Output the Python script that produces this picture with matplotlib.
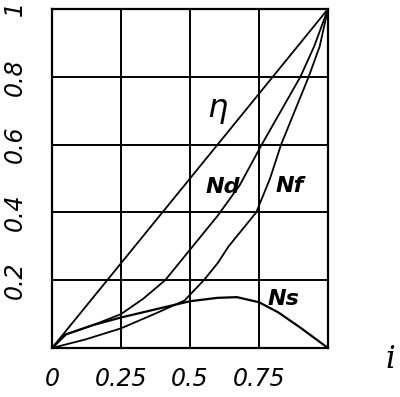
import matplotlib
matplotlib.use("Agg")
import matplotlib.pyplot as plt

# values
eta_i = [0.0, 1.0]
eta_v = [0.0, 1.0]

nd_i = [0.0, 0.05, 0.15, 0.25, 0.33, 0.41, 0.5, 0.6, 0.68, 0.76, 0.83, 0.9, 0.95, 1.0]
nd_v = [0.0, 0.04, 0.068, 0.10, 0.145, 0.20, 0.29, 0.39, 0.48, 0.60, 0.70, 0.80, 0.89, 1.0]

nf_i = [0.0, 0.12, 0.25, 0.37, 0.48, 0.55, 0.6, 0.64, 0.69, 0.74, 0.79, 0.83, 0.88, 0.93, 0.97, 1.0]
nf_v = [0.0, 0.025, 0.058, 0.10, 0.14, 0.20, 0.25, 0.30, 0.35, 0.40, 0.50, 0.60, 0.70, 0.80, 0.89, 1.0]

ns_i = [0.0, 0.05, 0.15, 0.25, 0.38, 0.5, 0.6, 0.67, 0.75, 0.82, 0.9, 0.95, 1.0]
ns_v = [0.0, 0.04, 0.068, 0.09, 0.115, 0.138, 0.148, 0.15, 0.135, 0.105, 0.06, 0.03, 0.0]

xticks = [0, 0.25, 0.5, 0.75, 1.0]
xlabels = ['0', '0.25', '0.5', '0.75', '']
yticks = [0, 0.2, 0.4, 0.6, 0.8, 1.0]
ylabels = ['', '0.2', '0.4', '0.6', '0.8', '1']

fig = plt.figure(figsize=(4.0, 3.97), dpi=100)
ax = fig.add_axes([0.13, 0.1234, 0.69, 0.854])

lw = 1.3
ax.plot(eta_i, eta_v, color='black', lw=lw)
ax.plot(nd_i, nd_v, color='black', lw=lw)
ax.plot(nf_i, nf_v, color='black', lw=lw)
ax.plot(ns_i, ns_v, color='black', lw=lw + 0.3)

ax.set_xlim(0, 1)
ax.set_ylim(0, 1)
ax.set_xticks(xticks)
ax.set_xticklabels(xlabels, fontsize=17, fontstyle='italic')
ax.set_yticks(yticks)
ax.set_yticklabels(ylabels, fontsize=17, fontstyle='italic', rotation=90, va='center')
ax.tick_params(length=0, pad=14)
ax.tick_params(axis='y', pad=18)
ax.grid(True, color='black', lw=1.4)
for s in ax.spines.values():
    s.set_linewidth(1.6)

tkw = dict(fontstyle='italic', color='black', ha='center', va='center')
ax.text(0.60, 0.705, 'η', fontsize=23, **tkw)
ax.text(0.62, 0.475, 'Nd', fontsize=16, fontweight='bold', **tkw)
ax.text(0.862, 0.478, 'Nf', fontsize=16, fontweight='bold', **tkw)
ax.text(0.84, 0.145, 'Ns', fontsize=16, fontweight='bold', **tkw)

fig.text(390 / 400, 1 - 360 / 397, 'i', fontsize=22, family='DejaVu Serif',
         fontstyle='italic', ha='center', va='center')

fig.savefig('out.png', dpi=100)
